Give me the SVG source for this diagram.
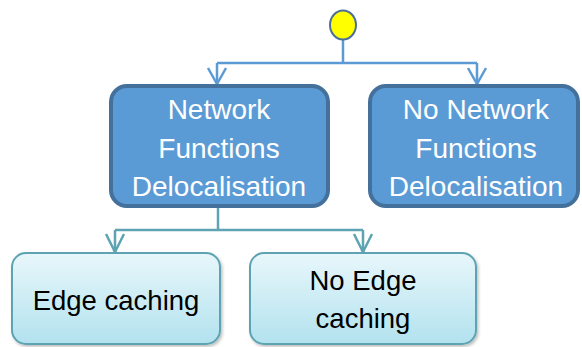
<svg xmlns="http://www.w3.org/2000/svg" width="582" height="347" viewBox="0 0 582 347">
  <defs>
    <linearGradient id="lightFill" x1="0" y1="0" x2="0" y2="1">
      <stop offset="0" stop-color="#e8f7fb"/>
      <stop offset="1" stop-color="#b2e2ee"/>
    </linearGradient>
    <filter id="shadow" x="-10%" y="-10%" width="125%" height="130%">
      <feDropShadow dx="1.5" dy="2" stdDeviation="1.5" flood-color="#000" flood-opacity="0.25"/>
    </filter>
  </defs>
  <style>
    .big { fill: #5b9bd5; stroke: #44709c; stroke-width: 4; }
    .small { fill: url(#lightFill); stroke: #5da3b2; stroke-width: 2; filter: url(#shadow); }
    .wtxt { font-family: "Liberation Sans", Arial, sans-serif; font-size: 28px; fill: #ffffff; text-anchor: middle; }
    .btxt { font-family: "Liberation Sans", Arial, sans-serif; font-size: 27.5px; fill: #000000; text-anchor: middle; }
    .c1 { fill: none; stroke: #5b9bd5; stroke-width: 2.5; }
    .c2 { fill: none; stroke: #5da3b2; stroke-width: 2.5; }
  </style>

  <!-- connectors -->
  <g id="connectors">
    <path class="c1" d="M343 39 V63 M217 63 H477 M217 63 V84 M477 63 V84"/>
    <path class="c1" d="M208 68 L217 84 L226 68 M468 68 L477 84 L486 68"/>
    <path class="c2" d="M218 208 V230 M115 230 H363 M115 230 V252 M363 230 V252"/>
    <path class="c2" d="M106 234 L115 252 L124 234 M354 234 L363 252 L372 234"/>
  </g>

  <!-- start node -->
  <g id="start">
    <ellipse cx="343" cy="25" rx="13" ry="14.5" fill="#ffff00" stroke="#4a6f99" stroke-width="2"/>
  </g>

  <g id="nfd">
    <rect class="big" x="111" y="86" width="217" height="120" rx="16"/>
    <text class="wtxt" x="219" y="119">Network</text>
    <text class="wtxt" x="219" y="158">Functions</text>
    <text class="wtxt" x="219" y="196">Delocalisation</text>
  </g>

  <g id="no-nfd">
    <rect class="big" x="370" y="86" width="208" height="120" rx="16"/>
    <text class="wtxt" x="476" y="119">No Network</text>
    <text class="wtxt" x="476" y="158">Functions</text>
    <text class="wtxt" x="476" y="196">Delocalisation</text>
  </g>

  <g id="edge-caching">
    <rect class="small" x="12" y="253" width="208" height="91" rx="14"/>
    <text class="btxt" x="116" y="310">Edge caching</text>
  </g>

  <g id="no-edge-caching">
    <rect class="small" x="250" y="253" width="226" height="91" rx="14"/>
    <text class="btxt" x="363" y="290">No Edge</text>
    <text class="btxt" x="363" y="328">caching</text>
  </g>
</svg>
